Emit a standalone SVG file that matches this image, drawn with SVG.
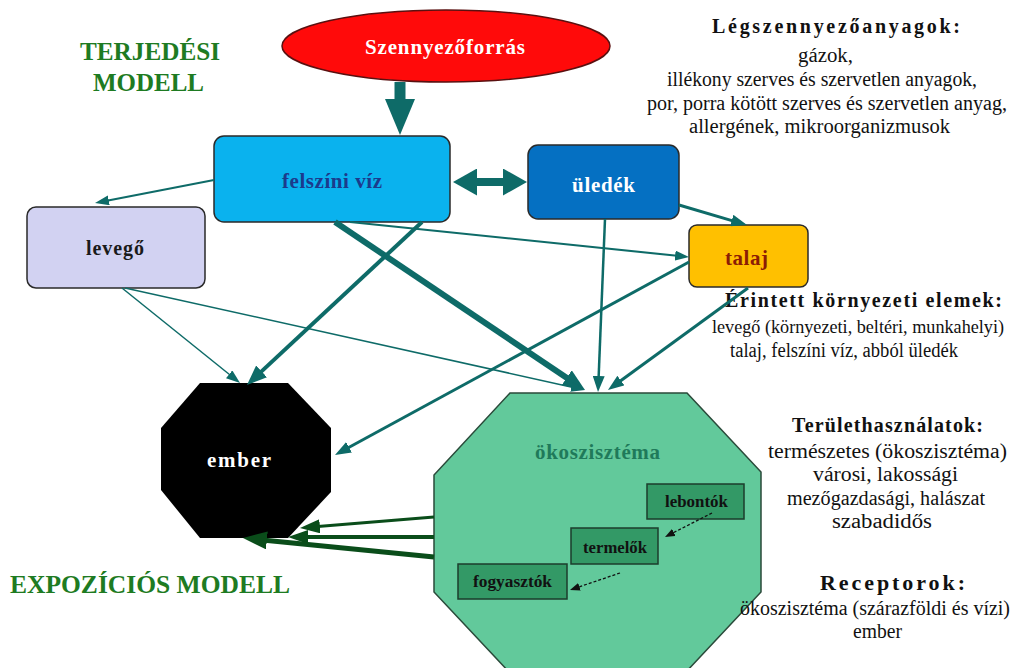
<svg xmlns="http://www.w3.org/2000/svg" width="1014" height="668" viewBox="0 0 1014 668">
<style>
.t{font-family:"Liberation Serif","Times New Roman",serif;font-weight:bold;}
.ttl{font-family:"Liberation Serif","Times New Roman",serif;font-weight:bold;font-size:25px;fill:#1e7b22;}
.inf{font-family:"Liberation Serif","Times New Roman",serif;font-size:20px;fill:#111;}
.infh{font-family:"Liberation Serif","Times New Roman",serif;font-size:20px;font-weight:bold;fill:#111;}
.box{stroke:#2a2a2a;stroke-width:1.5;}
.tl{stroke:#0e6b68;fill:none;}
.dg{stroke:#0a4d1a;fill:none;}
.ds{stroke:#111;stroke-width:1.3;stroke-dasharray:3 2;fill:none;}
.sub{fill:#339966;stroke:#1d3d2d;stroke-width:1.5;}
.subt{font-family:"Liberation Serif","Times New Roman",serif;font-weight:bold;font-size:16px;fill:#111;}
</style>
<defs>
<marker id="hs" markerUnits="userSpaceOnUse" markerWidth="14" markerHeight="10" viewBox="0 0 14 10" refX="2" refY="5" orient="auto"><path d="M0,0L14,5L0,10z" fill="#0e6b68"/></marker>
<marker id="hm" markerUnits="userSpaceOnUse" markerWidth="16" markerHeight="12" viewBox="0 0 16 12" refX="2" refY="6" orient="auto"><path d="M0,0L16,6L0,12z" fill="#0e6b68"/></marker>
<marker id="hl" markerUnits="userSpaceOnUse" markerWidth="20" markerHeight="16" viewBox="0 0 20 16" refX="3" refY="8" orient="auto"><path d="M0,0L20,8L0,16z" fill="#0e6b68"/></marker>
<marker id="hx" markerUnits="userSpaceOnUse" markerWidth="22" markerHeight="18" viewBox="0 0 22 18" refX="3" refY="9" orient="auto"><path d="M0,0L22,9L0,18z" fill="#0e6b68"/></marker>
<marker id="hb" markerUnits="userSpaceOnUse" markerWidth="36" markerHeight="30" viewBox="0 0 36 30" refX="1" refY="15" orient="auto"><path d="M0,0L36,15L0,30z" fill="#0e6b68"/></marker>
<marker id="hd" markerUnits="userSpaceOnUse" markerWidth="24" markerHeight="27" viewBox="0 0 24 27" refX="1" refY="13.5" orient="auto-start-reverse"><path d="M0,0L24,13.5L0,27z" fill="#0e6b68"/></marker>
<marker id="g1" markerUnits="userSpaceOnUse" markerWidth="20" markerHeight="14" viewBox="0 0 20 14" refX="2" refY="7" orient="auto"><path d="M0,0L20,7L0,14z" fill="#0a4d1a"/></marker>
<marker id="g2" markerUnits="userSpaceOnUse" markerWidth="24" markerHeight="18" viewBox="0 0 24 18" refX="2" refY="9" orient="auto"><path d="M0,0L24,9L0,18z" fill="#0a4d1a"/></marker>
<marker id="hk" markerUnits="userSpaceOnUse" markerWidth="10" markerHeight="8" viewBox="0 0 10 8" refX="1" refY="4" orient="auto"><path d="M0,0L10,4L0,8z" fill="#111"/></marker>
</defs>
<rect width="1014" height="668" fill="#ffffff"/>

<g id="titles">
<text class="ttl" x="80" y="60" textLength="140" lengthAdjust="spacingAndGlyphs">TERJEDÉSI</text>
<text class="ttl" x="93" y="91" textLength="111" lengthAdjust="spacingAndGlyphs">MODELL</text>
<text class="ttl" x="10" y="593" textLength="280" lengthAdjust="spacingAndGlyphs">EXPOZÍCIÓS MODELL</text>
</g>

<g id="info-legszennyezo">
<text class="infh" x="712" y="33" textLength="248" lengthAdjust="spacing">Légszennyezőanyagok:</text>
<text class="inf" x="798" y="62" textLength="55" lengthAdjust="spacingAndGlyphs">gázok,</text>
<text class="inf" x="667" y="86" textLength="310" lengthAdjust="spacingAndGlyphs">illékony szerves és szervetlen anyagok,</text>
<text class="inf" x="647" y="110" textLength="360" lengthAdjust="spacingAndGlyphs">por, porra kötött szerves és szervetlen anyag,</text>
<text class="inf" x="689" y="133" textLength="261" lengthAdjust="spacingAndGlyphs">allergének, mikroorganizmusok</text>
</g>
<g id="info-erintett">
<text class="infh" x="725" y="307" textLength="277" lengthAdjust="spacing">Érintett környezeti elemek:</text>
<text class="inf" x="712" y="333" style="font-size:18.2px" textLength="292" lengthAdjust="spacingAndGlyphs">levegő (környezeti, beltéri, munkahelyi)</text>
<text class="inf" x="730" y="357" textLength="228" lengthAdjust="spacingAndGlyphs">talaj, felszíni víz, abból üledék</text>
</g>
<g id="info-terulet">
<text class="infh" x="792" y="432" textLength="191" lengthAdjust="spacing">Területhasználatok:</text>
<text class="inf" x="768" y="458" textLength="239" lengthAdjust="spacingAndGlyphs">természetes (ökoszisztéma)</text>
<text class="inf" x="813" y="481" textLength="145" lengthAdjust="spacingAndGlyphs">városi, lakossági</text>
<text class="inf" x="787" y="505" textLength="198" lengthAdjust="spacingAndGlyphs">mezőgazdasági, halászat</text>
<text class="inf" x="832" y="528" textLength="100" lengthAdjust="spacingAndGlyphs">szabadidős</text>
</g>

<g id="node-okoszisztema">
<polygon points="510,393 687,393 761,472 761,592 685,673 510,673 434,592 434,475" fill="#62c99b" stroke="#2a4a3a" stroke-width="1.5"/>
<text class="t" x="535" y="459" font-size="21" fill="#1f7a5a" textLength="125" lengthAdjust="spacing">ökoszisztéma</text>
</g>
<g id="node-lebontok"><rect class="sub" x="647" y="484" width="97" height="35"/><text class="subt" x="665" y="507" textLength="63" lengthAdjust="spacingAndGlyphs">lebontók</text></g>
<g id="node-termelok"><rect class="sub" x="571" y="528" width="87" height="36"/><text class="subt" x="583" y="553" textLength="64" lengthAdjust="spacingAndGlyphs">termelők</text></g>
<g id="node-fogyasztok"><rect class="sub" x="458" y="564" width="109" height="35"/><text class="subt" x="473" y="587" textLength="79" lengthAdjust="spacingAndGlyphs">fogyasztók</text></g>

<g id="info-receptor">
<text class="infh" x="820" y="590" style="font-size:22px" textLength="145" lengthAdjust="spacing">Receptorok:</text>
<text class="inf" x="740" y="615" textLength="270" lengthAdjust="spacingAndGlyphs">ökoszisztéma (szárazföldi és vízi)</text>
<text class="inf" x="853" y="638" textLength="49" lengthAdjust="spacingAndGlyphs">ember</text>
</g>

<g id="node-szennyezoforras">
<ellipse cx="446" cy="46" rx="164" ry="36" fill="#ff0a0a" stroke="#5a1010" stroke-width="1.5"/>
<text class="t" x="365" y="54" font-size="21" fill="#ffffff" textLength="160" lengthAdjust="spacing">Szennyezőforrás</text>
</g>
<g id="node-felszini-viz">
<rect class="box" x="214" y="136" width="236" height="86" rx="10" fill="#0ab2ee"/>
<text class="t" x="282" y="188" font-size="21" fill="#1c3a8c" textLength="100" lengthAdjust="spacing">felszíni víz</text>
</g>
<g id="node-uledek">
<rect class="box" x="528" y="145" width="151" height="74" rx="10" fill="#0570c2"/>
<text class="t" x="572" y="192" font-size="21" fill="#ffffff" textLength="63" lengthAdjust="spacing">üledék</text>
</g>
<g id="node-levego">
<rect class="box" x="27" y="207" width="178" height="81" rx="9" fill="#d2d2f2"/>
<text class="t" x="86" y="255" font-size="20" fill="#1a1a1a" textLength="58" lengthAdjust="spacing">levegő</text>
</g>
<g id="node-talaj">
<rect class="box" x="689" y="225" width="119" height="62" rx="8" fill="#ffc000"/>
<text class="t" x="725" y="265" font-size="21" fill="#8b1c05" textLength="43" lengthAdjust="spacing">talaj</text>
</g>
<g id="node-ember">
<polygon points="200,383 288,383 331,428 331,492 288,538 200,538 161,490 161,428" fill="#000000"/>
<text class="t" x="207" y="467" font-size="21" fill="#ffffff" textLength="64" lengthAdjust="spacing">ember</text>
</g>

<g id="connectors">
<line class="tl" x1="400" y1="82" x2="400" y2="100" stroke-width="11" marker-end="url(#hb)"/>
<line class="tl" x1="476" y1="182" x2="504" y2="182" stroke-width="8" marker-start="url(#hd)" marker-end="url(#hd)"/>
<line class="tl" x1="214" y1="180" x2="106.8" y2="200.7" stroke-width="2" marker-end="url(#hs)"/>
<line class="tl" x1="422" y1="222" x2="259.4" y2="373.4" stroke-width="4" marker-end="url(#hl)"/>
<line class="tl" x1="335" y1="222" x2="569.2" y2="379.4" stroke-width="6" marker-end="url(#hx)"/>
<line class="tl" x1="350" y1="222" x2="677.1" y2="255.8" stroke-width="2" marker-end="url(#hs)"/>
<line class="tl" x1="679" y1="205" x2="733.6" y2="221.1" stroke-width="3" marker-end="url(#hm)"/>
<line class="tl" x1="605" y1="219" x2="598.6" y2="378" stroke-width="2.5" marker-end="url(#hm)"/>
<line class="tl" x1="122" y1="288" x2="230.7" y2="375.5" stroke-width="1.5" marker-end="url(#hs)"/>
<line class="tl" x1="125" y1="288" x2="573.3" y2="387.4" stroke-width="1.5" marker-end="url(#hs)"/>
<line class="tl" x1="748" y1="288" x2="619.3" y2="381.8" stroke-width="3" marker-end="url(#hm)"/>
<line class="tl" x1="689" y1="262" x2="347.3" y2="448.3" stroke-width="3" marker-end="url(#hm)"/>
<line class="dg" x1="434" y1="517" x2="317.9" y2="526.5" stroke-width="3" marker-end="url(#g1)"/>
<line class="dg" x1="434" y1="537" x2="306" y2="537" stroke-width="4" marker-end="url(#g1)"/>
<line class="dg" x1="434" y1="557" x2="264.9" y2="540.2" stroke-width="5" marker-end="url(#g2)"/>
<line class="ds" x1="712" y1="513" x2="673" y2="532.9" marker-end="url(#hk)"/>
<line class="ds" x1="620" y1="573" x2="578.5" y2="587.1" marker-end="url(#hk)"/>
</g>
</svg>
